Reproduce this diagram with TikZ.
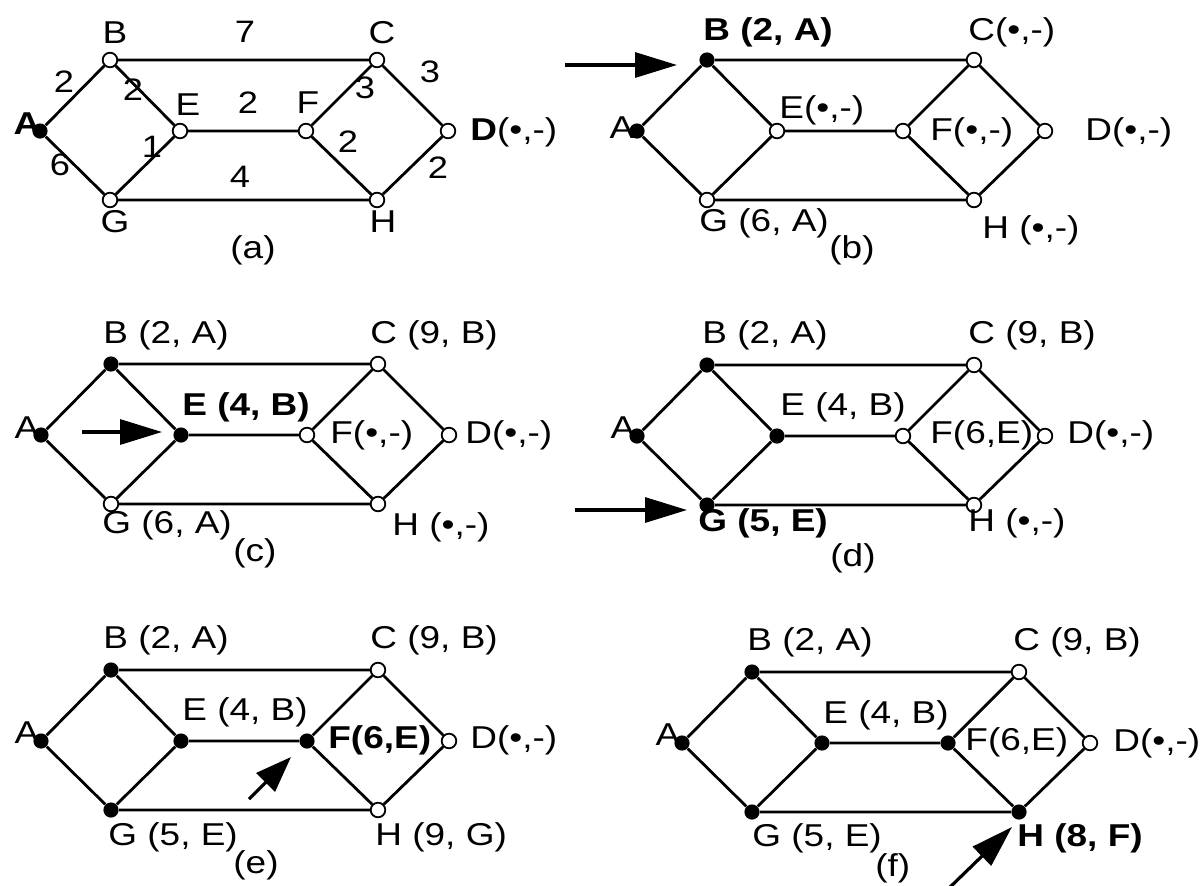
\documentclass[tikz,border=0pt]{standalone}
\usepackage{fontspec}
\setmainfont{Liberation Sans}[FakeStretch=1.17]
\usetikzlibrary{arrows.meta}
\tikzset{
 op/.style={circle, draw, line width=0.9pt, fill=white, minimum size=7.3pt, inner sep=0pt},
 fl/.style={circle, fill=black, minimum size=7.6pt, inner sep=0pt},
 gedge/.style={line width=1.4pt},
 lbl/.style={inner sep=0pt, anchor=west, font=\fontsize{15.8}{18}\selectfont},
 lblc/.style={inner sep=0pt, font=\fontsize{15.8}{18}\selectfont},
 wt/.style={inner sep=0pt, font=\fontsize{15.5}{18}\selectfont},
 bigarrow/.style={line width=1.6pt, -{Triangle[length=21pt,width=12.5pt]}},
}
\newcommand\graphat[3]{%
 \begin{scope}[shift={(#2,#3)}]
  \node[sA] (#1A) at (0,0) {};
  \node[sB] (#1B) at (70,-71) {};
  \node[sE] (#1E) at (140,0) {};
  \node[sF] (#1F) at (266,0) {};
  \node[sC] (#1C) at (337,-71) {};
  \node[sD] (#1D) at (408,0) {};
  \node[sG] (#1G) at (70,69) {};
  \node[sH] (#1H) at (337,69) {};
 \end{scope}
 \draw[gedge] (#1A)--(#1B) (#1B)--(#1C) (#1C)--(#1D) (#1A)--(#1G)
   (#1B)--(#1E) (#1E)--(#1G) (#1E)--(#1F) (#1F)--(#1C) (#1F)--(#1H)
   (#1D)--(#1H) (#1G)--(#1H);
}
\begin{document}
\begin{tikzpicture}[x=0.5pt,y=-0.5pt]
\fill[white] (0,0) rectangle (1200,885);
\useasboundingbox (0,0) rectangle (1200,885);

% ---------- panel (a)
\tikzset{sA/.style=fl,sB/.style=op,sC/.style=op,sD/.style=op,sE/.style=op,sF/.style=op,sG/.style=op,sH/.style=op}
\graphat{a}{40}{131}
\node[lblc] (aAl) at (27,124) {\bfseries A};
\node[lblc] (aBl) at (115,33) {B};
\node[lblc] (aCl) at (382,33) {C};
\node[lblc] (aEl) at (188,105) {E};
\node[lblc] (aFl) at (308,103) {F};
\node[lblc] (aGl) at (115,222) {G};
\node[lblc] (aHl) at (383,222) {H};
\node[lbl] (aDl) at (470,132) {{\bfseries D}(•,-)};
\node[wt] (w1) at (245,32) {7};
\node[wt] (w2) at (64,82) {2};
\node[wt] (w3) at (133,90) {2};
\node[wt] (w4) at (248,103) {2};
\node[wt] (w5) at (365,88) {3};
\node[wt] (w6) at (430,72) {3};
\node[wt] (w7) at (152,147) {1};
\node[wt] (w8) at (60,165) {6};
\node[wt] (w9) at (348,142) {2};
\node[wt] (w10) at (438,168) {2};
\node[wt] (w11) at (240,177) {4};
\node[lblc] (acap) at (253,250) {(a)};

% ---------- panel (b)
\tikzset{sA/.style=fl,sB/.style=fl}
\graphat{b}{637}{131}
\node[lblc] (bAl) at (622,128) {A};
\node[lbl] (bBl) at (703,32) {\bfseries B (2, A)};
\node[lbl] (bCl) at (968,32) {C(•,-)};
\node[lbl] (bEl) at (779,110) {E(•,-)};
\node[lbl] (bFl) at (930,132) {F(•,-)};
\node[lbl] (bDl) at (1085,132) {D(•,-)};
\node[lbl] (bGl) at (699,223) {G (6, A)};
\node[lbl] (bcap) at (829,250) {(b)};
\node[lbl] (bHl) at (982,230) {H (•,-)};
\coordinate (bt0) at (565,65);
\coordinate (bt1) at (677,65);
\draw[bigarrow] (bt0) -- (bt1);

% ---------- panel (c)
\tikzset{sE/.style=fl}
\graphat{c}{41}{435}
\node[lblc] (cAl) at (27,428) {A};
\node[lbl] (cBl) at (103,335) {B (2, A)};
\node[lbl] (cCl) at (370,335) {C (9, B)};
\node[lbl] (cEl) at (182,407) {\bfseries E (4, B)};
\node[lbl] (cFl) at (330,435) {F(•,-)};
\node[lbl] (cDl) at (465,435) {D(•,-)};
\node[lbl] (cGl) at (102,525) {G (6, A)};
\node[lbl] (ccap) at (233,553) {(c)};
\node[lbl] (cHl) at (392,527) {H (•,-)};
\coordinate (ct0) at (82,432);
\coordinate (ct1) at (162,432);
\draw[bigarrow] (ct0) -- (ct1);

% ---------- panel (d)
\tikzset{sG/.style=fl}
\graphat{d}{637}{436}
\node[lblc] (dAl) at (623,428) {A};
\node[lbl] (dBl) at (702,335) {B (2, A)};
\node[lbl] (dCl) at (968,335) {C (9, B)};
\node[lbl] (dEl) at (780,407) {E (4, B)};
\node[lbl] (dFl) at (930,435) {F(6,E)};
\node[lbl] (dDl) at (1067,435) {D(•,-)};
\node[lbl] (dGl) at (698,523) {\bfseries G (5, E)};
\node[lbl] (dcap) at (830,558) {(d)};
\node[lbl] (dHl) at (968,523) {H (•,-)};
\coordinate (dt0) at (575,510);
\coordinate (dt1) at (687,510);
\draw[bigarrow] (dt0) -- (dt1);

% ---------- panel (e)
\tikzset{sF/.style=fl}
\graphat{e}{41}{741}
\node[lblc] (eAl) at (27,733) {A};
\node[lbl] (eBl) at (103,640) {B (2, A)};
\node[lbl] (eCl) at (370,640) {C (9, B)};
\node[lbl] (eEl) at (182,712) {E (4, B)};
\node[lbl] (eFl) at (328,740) {\bfseries F(6,E)};
\node[lbl] (eDl) at (470,740) {D(•,-)};
\node[lbl] (eGl) at (108,837) {G (5, E)};
\node[lbl] (ecap) at (233,865) {(e)};
\node[lbl] (eHl) at (375,837) {H (9, G)};
\coordinate (et0) at (249,799);
\coordinate (et1) at (291,757);
\draw[line width=1.6pt, -{Triangle[length=18pt,width=13pt]}] (et0) -- (et1);

% ---------- panel (f)
\tikzset{sH/.style=fl}
\graphat{f}{682}{743}
\node[lblc] (fAl) at (668,735) {A};
\node[lbl] (fBl) at (747,642) {B (2, A)};
\node[lbl] (fCl) at (1013,642) {C (9, B)};
\node[lbl] (fEl) at (823,715) {E (4, B)};
\node[lbl] (fFl) at (965,742) {F(6,E)};
\node[lbl] (fDl) at (1113,743) {D(•,-)};
\node[lbl] (fGl) at (752,838) {G (5, E)};
\node[lbl] (fcap) at (875,868) {(f)};
\node[lbl] (fHl) at (1017,838) {\bfseries H (8, F)};
\coordinate (ft0) at (945,892);
\coordinate (ft1) at (1012,827);
\draw[line width=1.6pt, -{Triangle[length=21pt,width=13pt]}] (ft0) -- (ft1);
\end{tikzpicture}
\end{document}
